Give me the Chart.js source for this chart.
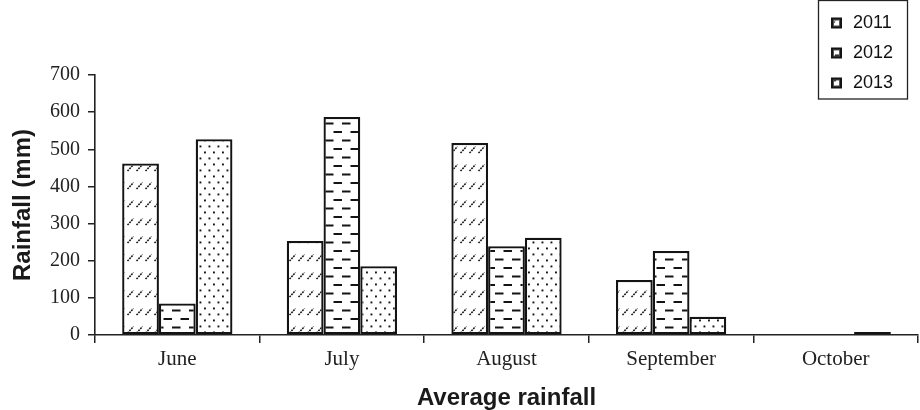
<!DOCTYPE html>
<html>
<head>
<meta charset="utf-8">
<script src="https://cdn.jsdelivr.net/npm/chart.js@4.4.1/dist/chart.umd.min.js"></script>
<style>
  html, body { margin: 0; padding: 0; background: #fff; }
  #wrap { width: 920px; height: 410px; }
</style>
</head>
<body>
<div id="wrap"><canvas id="c" width="920" height="410"></canvas></div>
<script>
// Monthly average rainfall (mm), three seasons
const months = ['June', 'July', 'August', 'September', 'October'];
const seriesNames = ['2011', '2012', '2013'];
const rain2011 = [462, 253, 517, 148, 0];
const rain2012 = [85, 587, 239, 226, 0];
const rain2013 = [527, 185, 262, 49, 8];
const yMin = 0, yMax = 700, yStep = 100;

const INK = '#141414';
const canvas = document.getElementById('c');
const ctx = canvas.getContext('2d');

// Small repeating tiles used as hatch fills
function makeTile(w, h, draw) {
  const t = document.createElement('canvas');
  t.width = w; t.height = h;
  const g = t.getContext('2d');
  g.fillStyle = '#fff';
  g.fillRect(0, 0, w, h);
  g.strokeStyle = INK;
  g.fillStyle = INK;
  draw(g);
  return ctx.createPattern(t, 'repeat');
}

// 2011: rows of short dotted slashes
const slashFill = makeTile(9, 18, g => {
  g.lineWidth = 1.5;
  g.setLineDash([1.8, 1.0]);
  g.beginPath();
  g.moveTo(1.5, 9);
  g.lineTo(7.5, 2.5);
  g.stroke();
});

// 2012: staggered horizontal dashes
const dashFill = makeTile(17, 17, g => {
  g.lineWidth = 2.2;
  g.beginPath();
  g.moveTo(2, 4.5); g.lineTo(10.5, 4.5);
  g.moveTo(10.5, 13); g.lineTo(17, 13);
  g.moveTo(0, 13); g.lineTo(2, 13);
  g.stroke();
});

// 2013: staggered dots
const dotFill = makeTile(9, 12, g => {
  g.fillRect(1.5, 1.5, 1.9, 1.9);
  g.fillRect(6, 7.5, 1.9, 1.9);
});

const fills = [slashFill, dashFill, dotFill];

// Boxed legend in the top-right corner
const boxLegend = {
  id: 'boxLegend',
  afterDraw(chart) {
    const c = chart.ctx;
    c.save();
    c.strokeStyle = '#222';
    c.lineWidth = 1.3;
    c.strokeRect(818.5, 0.5, 89, 98.5);
    c.font = '18px "Liberation Sans", Arial, sans-serif';
    c.textBaseline = 'middle';
    c.textAlign = 'left';
    const rowsY = [23, 53, 83];
    chart.data.datasets.forEach((ds, i) => {
      const y = rowsY[i];
      c.fillStyle = '#555';
      c.fillRect(832, y - 4.5, 9, 9);
      c.fillStyle = ds.backgroundColor;
      c.fillRect(834, y - 2.5, 5, 5);
      c.strokeStyle = INK;
      c.lineWidth = 2;
      c.strokeRect(832, y - 4.5, 9, 9);
      c.fillStyle = '#111';
      c.fillText(ds.label, 853, y + 0.5);
    });
    c.restore();
  }
};

const series = [rain2011, rain2012, rain2013];

new Chart(ctx, {
  type: 'bar',
  data: {
    labels: months,
    datasets: series.map((vals, i) => ({
      label: seriesNames[i],
      data: vals,
      backgroundColor: fills[i],
      borderColor: INK,
      borderWidth: 2.3,
      borderSkipped: false,
      categoryPercentage: 0.67,
      barPercentage: 1.0
    }))
  },
  options: {
    responsive: false,
    animation: false,
    devicePixelRatio: 1,
    layout: { padding: { top: 75, right: 2, left: 0, bottom: 0 } },
    plugins: {
      legend: { display: false },
      tooltip: { enabled: false }
    },
    scales: {
      x: {
        afterFit: s => { s.height = 75; },
        grid: { drawOnChartArea: false, drawTicks: true, tickLength: 8, color: '#222', lineWidth: 1.5 },
        border: { color: '#222', width: 1.6 },
        ticks: {
          color: '#222',
          padding: 4,
          font: { family: '"Liberation Serif", "Times New Roman", serif', size: 21 }
        },
        title: {
          display: true,
          text: 'Average rainfall',
          color: '#1a1a1a',
          padding: { top: 0, bottom: 0 },
          font: { family: '"Liberation Sans", Arial, sans-serif', size: 24, weight: 'bold', lineHeight: 1.0 }
        }
      },
      y: {
        min: yMin,
        max: yMax,
        afterFit: s => { s.width = 95; },
        grid: { drawOnChartArea: false, drawTicks: true, tickLength: 7, color: '#222', lineWidth: 1.5 },
        border: { color: '#222', width: 1.6 },
        ticks: {
          stepSize: yStep,
          color: '#222',
          padding: 8,
          font: { family: '"Liberation Serif", "Times New Roman", serif', size: 20 }
        },
        title: {
          display: true,
          text: 'Rainfall (mm)',
          color: '#1a1a1a',
          padding: { top: 11, bottom: 0 },
          font: { family: '"Liberation Sans", Arial, sans-serif', size: 24, weight: 'bold', lineHeight: 1.0 }
        }
      }
    }
  },
  plugins: [boxLegend]
});
</script>
</body>
</html>
